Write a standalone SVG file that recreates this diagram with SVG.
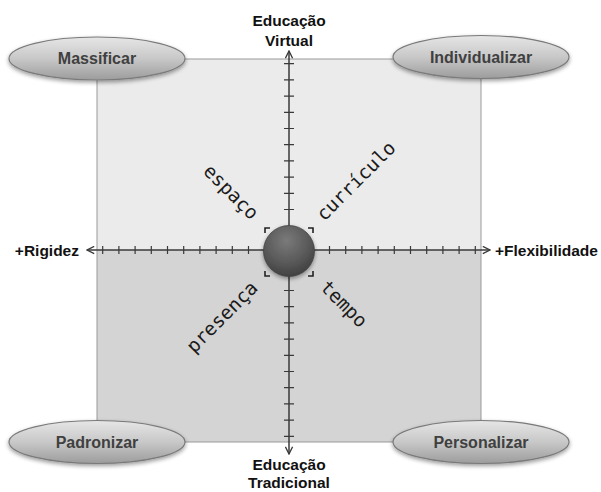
<svg xmlns="http://www.w3.org/2000/svg" width="601" height="492" viewBox="0 0 601 492">
<defs>
<style>
.lbl{font-family:"Liberation Sans",Arial,sans-serif;font-weight:bold;font-size:15.5px;fill:#111;text-anchor:middle}
.nodetxt{font-family:"Liberation Sans",Arial,sans-serif;font-weight:bold;font-size:16px;fill:#404040;text-anchor:middle}
.mono{font-family:"DejaVu Sans Mono","Liberation Mono",monospace;font-size:19px;fill:#1a1a1a;text-anchor:middle}
.axis{stroke:#3a3a3a;stroke-width:1.5;fill:none}
.tick{stroke:#3a3a3a;stroke-width:1.2}
.oval{fill:url(#ovalGrad);stroke:#7a7a7a;stroke-width:1.2;filter:url(#sh)}
.brk{stroke:#222;stroke-width:1.6;fill:none}
</style>
<linearGradient id="ovalGrad" x1="0" y1="0" x2="0" y2="1">
<stop offset="0" stop-color="#e6e6e6"/>
<stop offset="0.5" stop-color="#c8c8c8"/>
<stop offset="1" stop-color="#9c9c9c"/>
</linearGradient>
<radialGradient id="ballGrad" cx="0.45" cy="0.3" r="0.75">
<stop offset="0" stop-color="#7a7a7a"/>
<stop offset="0.6" stop-color="#585858"/>
<stop offset="1" stop-color="#3c3c3c"/>
</radialGradient>
<filter id="sh" x="-20%" y="-40%" width="140%" height="190%">
<feGaussianBlur in="SourceAlpha" stdDeviation="2"/>
<feOffset dx="0" dy="2" result="b"/>
<feComponentTransfer><feFuncA type="linear" slope="0.4"/></feComponentTransfer>
<feMerge><feMergeNode/><feMergeNode in="SourceGraphic"/></feMerge>
</filter>
<marker id="arr" viewBox="0 0 10 10" refX="9" refY="5" markerWidth="9" markerHeight="9" markerUnits="userSpaceOnUse" orient="auto">
<path d="M1,1 L9,5 L1,9" fill="none" stroke="#3a3a3a" stroke-width="1.5"/>
</marker>
</defs>
<rect width="601" height="492" fill="#fff"/>
<g id="quadrants">
<rect x="97" y="59" width="384" height="191" fill="#ebebeb"/>
<rect x="97" y="250" width="384" height="192" fill="#d4d4d4"/>
<rect x="97" y="59" width="384" height="383" fill="none" stroke="#9a9a9a" stroke-width="1"/>
</g>
<g id="connectors">
<line class="axis" x1="289" y1="250" x2="289" y2="51" marker-end="url(#arr)"/>
<line class="axis" x1="289" y1="250" x2="289" y2="454" marker-end="url(#arr)"/>
<line class="axis" x1="289" y1="250" x2="87" y2="250" marker-end="url(#arr)"/>
<line class="axis" x1="289" y1="250" x2="490" y2="250" marker-end="url(#arr)"/>
<g class="tick">
<path d="M102.7,246v8M118.9,246v8M135.1,246v8M151.3,246v8M167.5,246v8M183.7,246v8M199.9,246v8M216.1,246v8M232.3,246v8M248.5,246v8"/>
<path d="M329.5,246v8M345.7,246v8M361.9,246v8M378.1,246v8M394.3,246v8M410.5,246v8M426.7,246v8M442.9,246v8M459.1,246v8M475.3,246v8"/>
<path d="M284,63.7h10M284,79.9h10M284,96.1h10M284,112.3h10M284,128.5h10M284,144.7h10M284,160.9h10M284,177.1h10M284,193.3h10M284,209.5h10"/>
<path d="M284,290.5h10M284,306.7h10M284,322.9h10M284,339.1h10M284,355.3h10M284,371.5h10M284,387.7h10M284,403.9h10M284,420.1h10M284,436.3h10"/>
</g>
</g>
<g id="center">
<path class="brk" d="M265,233v-5h5M313,233v-5h-5M265,271v5h5M313,271v5h-5"/>
<circle cx="289" cy="251" r="25.5" fill="url(#ballGrad)" stroke="#444" stroke-width="0.8" filter="url(#sh)"/>
</g>
<g id="massificar">
<ellipse class="oval" cx="97" cy="58.5" rx="88" ry="21.5"/>
<text class="nodetxt" x="97" y="64">Massificar</text>
</g>
<g id="individualizar">
<ellipse class="oval" cx="481" cy="57" rx="88" ry="21.5"/>
<text class="nodetxt" x="481" y="62.5">Individualizar</text>
</g>
<g id="padronizar">
<ellipse class="oval" cx="97" cy="442" rx="88" ry="21.5"/>
<text class="nodetxt" x="97" y="447.5">Padronizar</text>
</g>
<g id="personalizar">
<ellipse class="oval" cx="481" cy="442" rx="88" ry="21.5"/>
<text class="nodetxt" x="481" y="447.5">Personalizar</text>
</g>
<g id="axis-labels">
<text class="lbl" x="289" y="26">Educação</text>
<text class="lbl" x="289" y="46">Virtual</text>
<text class="lbl" x="289" y="470">Educação</text>
<text class="lbl" x="289" y="488">Tradicional</text>
<text class="lbl" x="79" y="256" style="text-anchor:end">+Rigidez</text>
<text class="lbl" x="495" y="256" style="text-anchor:start">+Flexibilidade</text>
</g>
<g id="dimensions">
<text class="mono" transform="translate(230,193) rotate(45)" y="5">espaço</text>
<text class="mono" transform="translate(357,182) rotate(-45)" y="5">currículo</text>
<text class="mono" transform="translate(223,318) rotate(-45)" y="5">presença</text>
<text class="mono" transform="translate(343,305) rotate(45)" y="5">tempo</text>
</g>
</svg>
